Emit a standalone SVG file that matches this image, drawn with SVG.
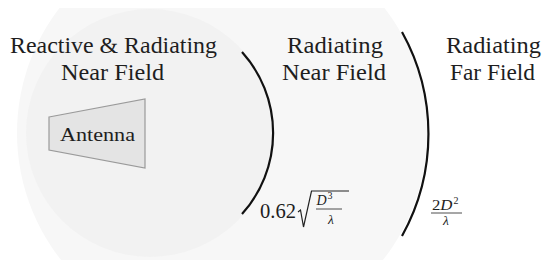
<svg xmlns="http://www.w3.org/2000/svg" width="550" height="266" viewBox="0 0 550 266">
  <style>
    .lbl { font-family: "Liberation Serif", "Times New Roman", serif; font-size: 23px; fill: #1e1e1e; text-anchor: middle; }
    .math { font-family: "Liberation Serif", "Times New Roman", serif; fill: #1e1e1e; }
    .it { font-style: italic; }
    .bound { fill: none; stroke: #111; stroke-width: 2.2; }
    .thin { stroke: #222; fill: none; }
  </style>
  <defs>
    <clipPath id="band"><rect x="0" y="8" width="550" height="252"/></clipPath>
  </defs>
  <rect width="550" height="266" fill="#ffffff"/>
  <g id="background">
    <circle cx="222" cy="133" r="205" fill="#f7f7f7" clip-path="url(#band)"/>
    <circle cx="150" cy="133" r="124" fill="#f2f2f2"/>
  </g>
  <g id="connectors">
    <path class="bound" d="M242,52 A121,121 0 0 1 242,214"/>
    <path class="bound" d="M402,32 A210,210 0 0 1 402,236"/>
  </g>
  <g id="antenna">
    <polygon points="49,117 145,99 145,168 49,150" fill="#e4e4e4" stroke="#9a9a9a" stroke-width="1.2"/>
    <text class="lbl" x="97.5" y="141" textLength="75" lengthAdjust="spacingAndGlyphs" style="font-size:19.5px">Antenna</text>
  </g>
  <g id="region-reactive">
    <text class="lbl" x="113.5" y="53" textLength="207" lengthAdjust="spacingAndGlyphs">Reactive &amp; Radiating</text>
    <text class="lbl" x="112.5" y="80" textLength="103" lengthAdjust="spacingAndGlyphs">Near Field</text>
  </g>
  <g id="region-radiating-near">
    <text class="lbl" x="335" y="53" textLength="96" lengthAdjust="spacingAndGlyphs">Radiating</text>
    <text class="lbl" x="334" y="80" textLength="104" lengthAdjust="spacingAndGlyphs">Near Field</text>
  </g>
  <g id="region-far">
    <text class="lbl" x="493.5" y="53" textLength="95" lengthAdjust="spacingAndGlyphs">Radiating</text>
    <text class="lbl" x="492.5" y="80" textLength="85" lengthAdjust="spacingAndGlyphs">Far Field</text>
  </g>
  <g id="formula-near">
    <text class="math" x="260" y="218" font-size="21" textLength="36" lengthAdjust="spacingAndGlyphs">0.62</text>
    <path class="thin" stroke-width="1.2" d="M298,212 L300.5,210 L303.5,227 L311.5,191 L349,191"/>
    <text class="math it" x="316.5" y="205" font-size="14">D</text>
    <text class="math" x="327.5" y="199" font-size="10">3</text>
    <line class="thin" x1="316" y1="209" x2="342" y2="209" stroke-width="0.8"/>
    <text class="math it" x="331" y="223.5" font-size="13.5" text-anchor="middle">λ</text>
  </g>
  <g id="formula-far">
    <text class="math" x="432" y="210" font-size="14.5" textLength="20.5" lengthAdjust="spacingAndGlyphs">2<tspan class="it">D</tspan></text>
    <text class="math" x="453.5" y="204" font-size="10">2</text>
    <line class="thin" x1="431" y1="213" x2="462" y2="213" stroke-width="0.8"/>
    <text class="math it" x="446" y="224.5" font-size="13.5" text-anchor="middle">λ</text>
  </g>
</svg>
